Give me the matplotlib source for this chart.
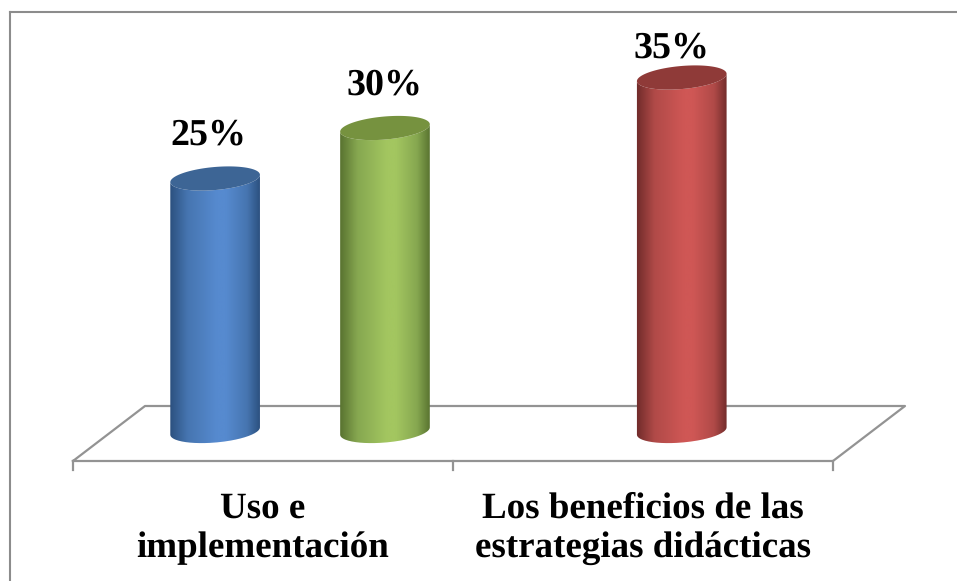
import matplotlib
matplotlib.use('Agg')
import matplotlib.pyplot as plt
import numpy as np
from matplotlib.path import Path
from matplotlib.patches import PathPatch
from matplotlib.colors import LinearSegmentedColormap

plt.rcParams['text.hinting'] = 'no_hinting'
plt.rcParams['text.hinting_factor'] = 1

categories = ['Uso e\nimplementación', 'Los beneficios de las\nestrategias didácticas']
labels = ['25%', '30%', '35%']
values = [25, 30, 35]
centre_cols = ['#568ACF', '#A3C660', '#CF5755']
side_cols = ['#4675B0', '#86A750', '#B04A48']
edge_cols = ['#2A4E7C', '#56702E', '#6E2A29']
top_cols = ['#3D6595', '#76923F', '#8F3A38']

# where each cylinder and its label sit
series_cat = [0, 0, 1]
series_off = [-0.126, 0.321, 0.102]
label_dx = [-6.5, 0, -10]
label_dy = [43, 43, 29]

W, H = 957, 581
px_x = 380.0   # pixels per category
px_y = 10.1    # pixels per percent

fig = plt.figure(figsize=(W / 100, H / 100), dpi=100)
ax = fig.add_axes([0, 0, 1, 1])
ax.axis('off')


def ellipse(cx, cy, t):
    # slightly tilted ellipse, sizes in pixels
    a, b, th = 45.0, 11.5, np.radians(5)
    ex = a * np.cos(t) * np.cos(th) - b * np.sin(t) * np.sin(th)
    ey = a * np.cos(t) * np.sin(th) + b * np.sin(t) * np.cos(th)
    return cx + ex / px_x, cy + ey / px_y


# gray floor
grey = '#939393'
dx = 72 / px_x
fy = -30 / px_y
by = 25 / px_y
ax.plot([-0.5, -0.5 + dx, 1.5 + dx, 1.5, -0.5], [fy, by, by, fy, fy], color=grey, lw=1.6, zorder=1)
for c in [-0.5, 0.5, 1.5]:
    ax.plot([c, c], [fy, fy - 9 / px_y], color=grey, lw=1.6, zorder=1)

# cylinders
for i in range(len(values)):
    cx = series_cat[i] + series_off[i]
    v = values[i]
    t_low = np.linspace(np.pi, 2 * np.pi, 80)
    xb, yb = ellipse(cx, 0, t_low)
    xt, yt = ellipse(cx, v, t_low[::-1])
    verts = np.vstack([np.column_stack([xb, yb]), np.column_stack([xt, yt])])
    clip = PathPatch(Path(np.vstack([verts, verts[0]])), transform=ax.transData, fc='none', ec='none')
    ax.add_patch(clip)
    cmap = LinearSegmentedColormap.from_list(
        'c', [(0, edge_cols[i]), (0.2, side_cols[i]), (0.52, centre_cols[i]), (0.62, centre_cols[i]),
              (0.85, side_cols[i]), (1, edge_cols[i])])
    grad = np.linspace(0, 1, 256).reshape(1, -1)
    im = ax.imshow(grad, cmap=cmap, aspect='auto', zorder=2,
                   extent=[cx - 46 / px_x, cx + 46 / px_x, -3, v + 3], interpolation='bilinear')
    im.set_clip_path(clip)
    xe, ye = ellipse(cx, v, np.linspace(0, 2 * np.pi, 120))
    ax.fill(xe, ye, color=top_cols[i], lw=0, zorder=3)
    ax.text(cx + label_dx[i] / px_x, v + label_dy[i] / px_y, labels[i], family='Liberation Serif',
            weight='bold', fontsize=27, ha='center', va='center', zorder=4)

for c, name in enumerate(categories):
    ax.text(c, -(528.5 - 431) / px_y, name, family='Liberation Serif', weight='bold', fontsize=26.4,
            ha='center', va='center', linespacing=1.2)

ax.set_xlim(-263 / px_x, (W - 263) / px_x)
ax.set_ylim(-(H - 431) / px_y, 431 / px_y)

# chart border: only the left and top edges show
fr = fig.add_axes([9.5 / W, -0.01, 1, 1.01 - 11.5 / H])
fr.set_xticks([])
fr.set_yticks([])
fr.patch.set_alpha(0)
fr.spines['right'].set_visible(False)
fr.spines['bottom'].set_visible(False)
for s in ['left', 'top']:
    fr.spines[s].set_color('#8C8C8C')
    fr.spines[s].set_linewidth(1.5)

fig.savefig('out.png', dpi=100)
